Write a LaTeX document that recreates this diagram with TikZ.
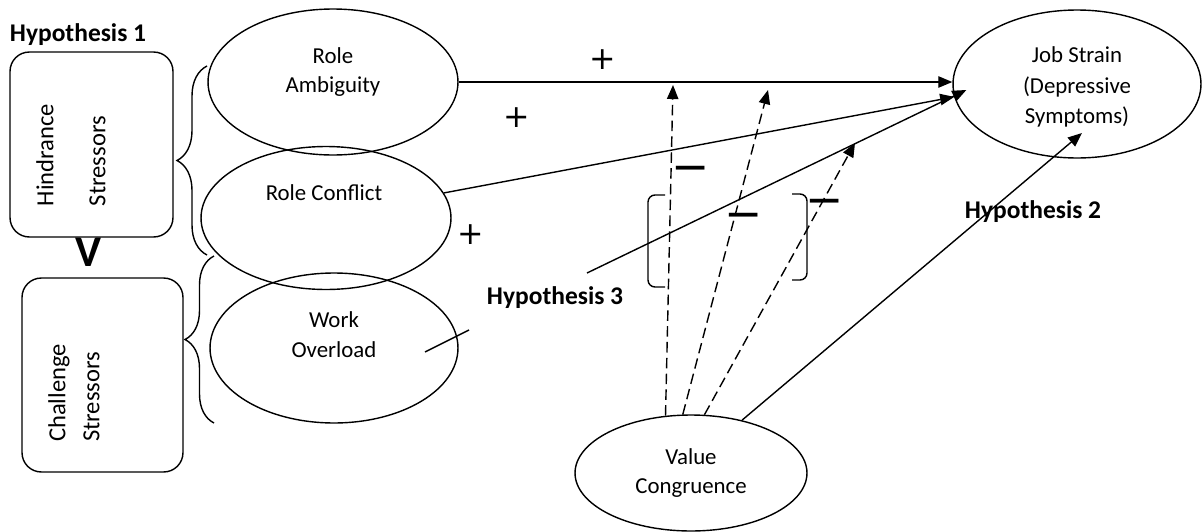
\documentclass[tikz,border=0pt]{standalone}
\usepackage{fontspec}
\setmainfont{Carlito}
\newfontfamily\signfont{DejaVu Sans}
\usetikzlibrary{shapes.geometric,arrows.meta,decorations.pathreplacing}

\begin{document}
\begin{tikzpicture}[x=0.02cm,y=-0.02cm,line width=0.8pt,
    oval/.style={draw,ellipse,inner sep=0pt},
    otext/.style={align=center,inner sep=0pt,font=\fontsize{13}{17}\selectfont},
    group/.style={draw,rounded corners=11pt,inner sep=0pt},
    side/.style={rotate=90,align=left,inner sep=0pt},
    hyp/.style={inner sep=0pt,font=\fontsize{14.5}{17}\selectfont\bfseries},
    plus/.style={inner sep=0pt,font=\signfont\fontsize{18}{18}\selectfont},
    minus/.style={inner sep=0pt,font=\signfont\fontsize{26}{26}\selectfont},
    arr/.style={-{Triangle[length=8pt,width=6.5pt]}},
    mod/.style={arr,dash pattern=on 6pt off 3pt}]
  \useasboundingbox (0,0) rectangle (1203,531);

  % stressor groups
  \node[hyp] (h1) at (78,35) {Hypothesis 1};
  \node[group,minimum width=3.26cm,minimum height=3.7cm] (hs) at (91.5,144.5) {};
  \node[side,font=\fontsize{14}{29.6}\selectfont] (hs-t) at (71,155) {Hindrance\\Stressors};
  \node[inner sep=0pt,font=\fontsize{25}{25}\selectfont\bfseries] (vee) at (88,252) {V};
  \node[group,minimum width=3.22cm,minimum height=3.88cm] (cs) at (102.5,375) {};
  \node[side,font=\fontsize{14}{19.4}\selectfont] (cs-t) at (74,393) {Challenge\\Stressors};
  \draw[decorate,decoration={brace,amplitude=0.6cm}] (207,255) -- (207,66);
  \draw[decorate,decoration={brace,amplitude=0.58cm}] (214,423) -- (214,256);

  % constructs
  \node[oval,minimum width=5cm,minimum height=2.92cm] (ra) at (333,82) {};
  \node[otext] (ra-t) at (333,72) {Role\\Ambiguity};
  \node[oval,minimum width=5cm,minimum height=2.86cm] (rc) at (326,218) {};
  \node[otext] (rc-t) at (324,193) {Role Conflict};
  \node[oval,minimum width=4.96cm,minimum height=3cm] (wo) at (334,348) {};
  \node[otext] (wo-t) at (334,335) {Work\\Overload};
  \node[oval,minimum width=4.96cm,minimum height=2.96cm] (js) at (1077,84) {};
  \node[otext,font=\fontsize{13}{17.4}\selectfont] (js-t) at (1077,87) {Job Strain\\(Depressive\\Symptoms)};
  \node[oval,minimum width=4.64cm,minimum height=2.32cm] (vc) at (691,473) {};
  \node[otext] (vc-t) at (691,473) {Value\\Congruence};

  % main effects
  \draw[arr] (ra.east) -- (ra.east -| js.west);
  \draw[arr] (rc.12) -- (js.186);
  \coordinate (h3a) at (469,330);
  \coordinate (h3b) at (587,273);
  \draw ([shift={(91,4)}]wo.center) -- (h3a);
  \draw[arr] (h3b) -- ([shift={(14,6)}]js.west);
  \draw[arr] (vc.46) -- ([shift={(5,49)}]js.center);

  % moderation
  \coordinate (m1) at (673,85);
  \coordinate (m2) at (768,90);
  \coordinate (m3) at (855,143);
  \draw[mod] (vc.114) -- (m1);
  \draw[mod] (vc.98) -- (m2);
  \draw[mod] (vc.77) -- (m3);
  \draw[rounded corners=4pt] (665,195) -- (648,195) -- (648,287) -- (665,287);
  \draw[rounded corners=4pt] (792,194) -- (807,194) -- (807,280) -- (792,280);

  \node[plus] (p1) at (603,60) {+};
  \node[plus] (p2) at (517,118) {+};
  \node[plus] (p3) at (471,235) {+};
  \node[minus] (n1) at (691,174) {−};
  \node[minus] (n2) at (744,221) {−};
  \node[minus] (n3) at (825,207) {−};

  \node[hyp] (h2) at (1033,212) {Hypothesis 2};
  \node[hyp] (h3) at (555,298) {Hypothesis 3};
\end{tikzpicture}
\end{document}
